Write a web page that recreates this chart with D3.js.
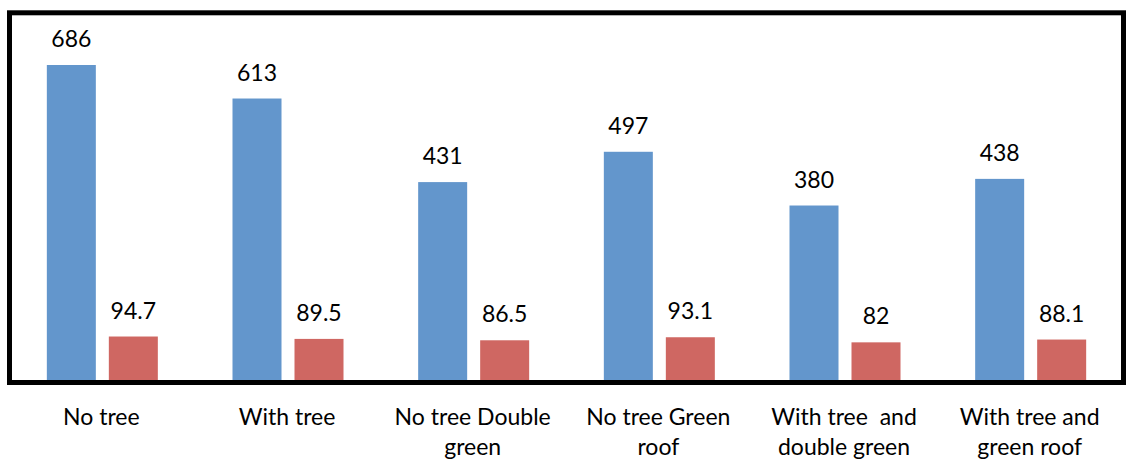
<!DOCTYPE html>
<html>
<head>
<meta charset="utf-8">
<script src="https://cdn.jsdelivr.net/npm/d3@7"></script>
<style>
  body { margin: 0; background: #fff; }
  svg { display: block; font-family: Lato, "Open Sans", sans-serif; }
  text { white-space: pre; }
</style>
</head>
<body>
<div id="chart"></div>
<script>
// categories, each split into the lines it is printed on
const categories = [
  ["No tree"],
  ["With tree"],
  ["No tree Double", "green"],
  ["No tree Green", "roof"],
  ["With tree  and", "double green"],
  ["With tree and", "green roof"]
];
const seriesA = [686, 613, 431, 497, 380, 438];
const seriesB = [94.7, 89.5, 86.5, 93.1, 82, 88.1];

const width = 1126, height = 460;
const plot = { left: 9.5, top: 12.8, right: 1123.5, bottom: 382.5 };

const svg = d3.select("#chart").append("svg")
    .attr("width", width)
    .attr("height", height);

const x = d3.scaleBand()
    .domain(d3.range(categories.length))
    .range([plot.left, plot.right]);

const barW = 49, gap = 13;

const y = d3.scaleLinear()
    .domain([0, 686])
    .range([380, 65]);

const groups = svg.append("g")
  .selectAll("g")
  .data(categories.map((c, i) => ({ i, a: seriesA[i], b: seriesB[i] })))
  .join("g")
    .attr("transform", d => `translate(${x(d.i) + x.bandwidth() / 2},0)`);

groups.append("rect")
    .attr("x", -gap / 2 - barW)
    .attr("y", d => y(d.a))
    .attr("width", barW)
    .attr("height", d => y(0) - y(d.a))
    .attr("fill", "#6396cc");

groups.append("rect")
    .attr("x", gap / 2)
    .attr("y", d => y(d.b))
    .attr("width", barW)
    .attr("height", d => y(0) - y(d.b))
    .attr("fill", "#cf6762");

groups.append("text")
    .attr("x", -gap / 2 - barW / 2)
    .attr("y", d => y(d.a) - 18)
    .attr("text-anchor", "middle")
    .attr("font-size", 23)
    .text(d => d.a);

groups.append("text")
    .attr("x", gap / 2 + barW / 2)
    .attr("y", d => y(d.b) - 18)
    .attr("text-anchor", "middle")
    .attr("font-size", 23)
    .text(d => d.b);

// plot border
svg.append("rect")
    .attr("x", plot.left)
    .attr("y", plot.top)
    .attr("width", plot.right - plot.left)
    .attr("height", plot.bottom - plot.top)
    .attr("fill", "none")
    .attr("stroke", "#000")
    .attr("stroke-width", 5);

// category labels
groups.append("text")
    .attr("text-anchor", "middle")
    .attr("font-size", 23)
  .selectAll("tspan")
  .data(d => categories[d.i])
  .join("tspan")
    .attr("x", -1)
    .attr("y", (d, j) => 425 + j * 30)
    .text(d => d);
</script>
</body>
</html>
